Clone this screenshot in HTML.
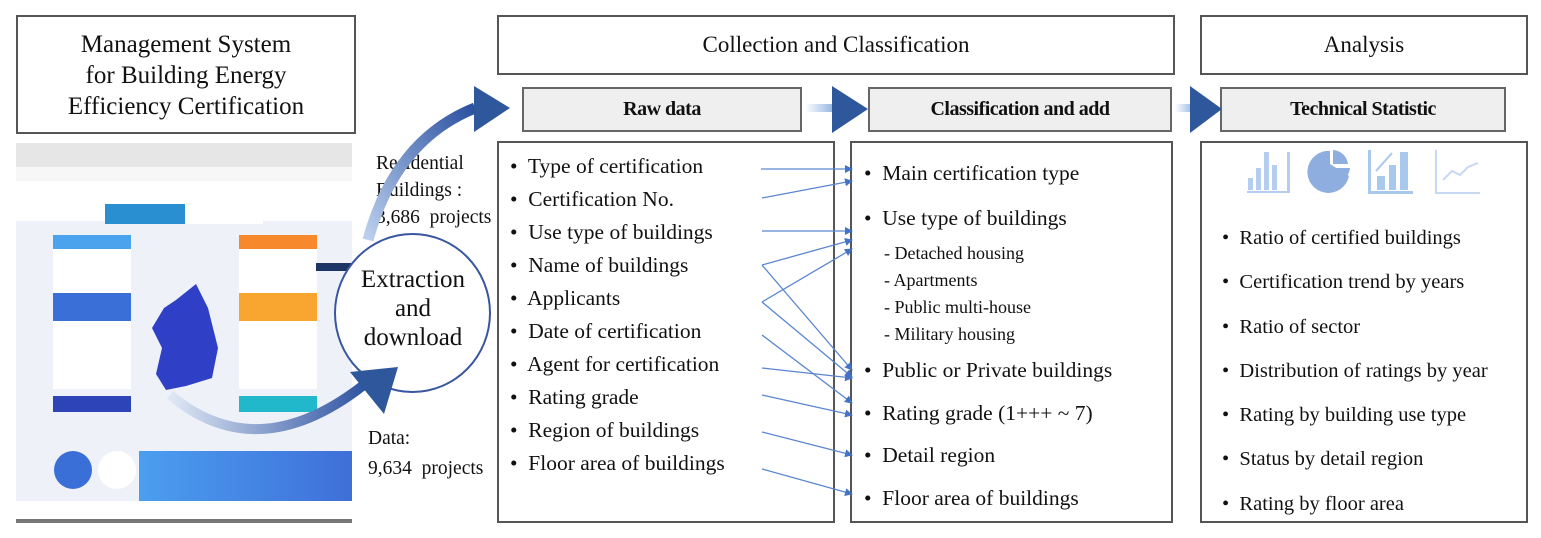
<!DOCTYPE html>
<html><head><meta charset="utf-8"><style>
body{margin:0;width:1541px;height:538px;background:#fff;position:relative;overflow:hidden;font-family:"Liberation Serif",serif;color:#111}
.b{position:absolute;box-sizing:border-box;border:2px solid #555;background:#fff}
.h{position:absolute;box-sizing:border-box;border:2px solid #666;background:#efefef;font-weight:bold;font-size:20px;display:flex;align-items:center;justify-content:center;letter-spacing:-0.5px}
.t{position:absolute;font-size:21.5px;white-space:nowrap}
.s{position:absolute;font-size:18px;white-space:nowrap}
.a{position:absolute}
</style></head><body>
<div class="b" style="left:16px;top:15px;width:340px;height:119px;text-align:center;font-size:25px;line-height:31px;padding-top:12px">Management System<br>for Building Energy<br>Efficiency Certification</div>
<div class="b" style="left:497px;top:15px;width:678px;height:60px;font-size:23px;text-align:center;line-height:56px">Collection and Classification</div>
<div class="b" style="left:1200px;top:15px;width:328px;height:60px;font-size:23px;text-align:center;line-height:56px">Analysis</div>
<div class="h" style="left:522px;top:87px;width:280px;height:45px">Raw data</div>
<div class="h" style="left:868px;top:87px;width:304px;height:45px">Classification and add</div>
<div class="h" style="left:1220px;top:87px;width:286px;height:45px">Technical Statistic</div>
<div class="b" style="left:497px;top:141px;width:338px;height:382px"></div>
<div class="b" style="left:850px;top:141px;width:323px;height:382px"></div>
<div class="b" style="left:1200px;top:141px;width:328px;height:382px"></div>

<!-- screenshot mock -->
<div class="a" style="left:16px;top:143px;width:336px;height:380px;background:#eef2f8">
 <div class="a" style="left:0;top:0;width:336px;height:24px;background:#e6e6e6"></div>
 <div class="a" style="left:0;top:24px;width:336px;height:14px;background:#f7f7f7"></div>
 <div class="a" style="left:0;top:38px;width:336px;height:40px;background:#fff"></div>
 <div class="a" style="left:89px;top:61px;width:80px;height:20px;background:#2a8fd0"></div>
 <div class="a" style="left:169px;top:61px;width:78px;height:20px;background:#fff"></div>
 <div class="a" style="left:37px;top:92px;width:78px;height:14px;background:#4aa3ec"></div>
 <div class="a" style="left:37px;top:106px;width:78px;height:50px;background:#fff"></div>
 <div class="a" style="left:37px;top:150px;width:78px;height:28px;background:#3a6fd8"></div>
 <div class="a" style="left:37px;top:178px;width:78px;height:68px;background:#fff"></div>
 <div class="a" style="left:37px;top:253px;width:78px;height:16px;background:#2c44b8"></div>
 <div class="a" style="left:223px;top:92px;width:78px;height:14px;background:#f7882c"></div>
 <div class="a" style="left:223px;top:106px;width:78px;height:50px;background:#fff"></div>
 <div class="a" style="left:223px;top:150px;width:78px;height:28px;background:#f9a630"></div>
 <div class="a" style="left:223px;top:178px;width:78px;height:68px;background:#fff"></div>
 <div class="a" style="left:223px;top:253px;width:78px;height:16px;background:#22b8cc"></div>
 <div class="a" style="left:300px;top:120px;width:36px;height:8px;background:#1d3466"></div>
 <svg class="a" style="left:130px;top:135px" width="90" height="120"><path d="M50 6 L62 30 L72 70 L66 100 L40 108 L20 112 L10 96 L16 70 L6 50 L18 30 L30 22Z" fill="#2f3fc6"/></svg>
 <div class="a" style="left:38px;top:308px;width:38px;height:38px;border-radius:50%;background:#3a6fd8"></div>
 <div class="a" style="left:82px;top:308px;width:38px;height:38px;border-radius:50%;background:#fff"></div>
 <div class="a" style="left:123px;top:308px;width:213px;height:50px;background:linear-gradient(90deg,#4b9ef0,#3f6fd8)"></div>
 <div class="a" style="left:0;top:358px;width:336px;height:18px;background:#fff"></div>
 <div class="a" style="left:0;top:376px;width:336px;height:4px;background:#777"></div>
</div>

<!-- circle -->
<div class="a" style="left:334px;top:233px;width:157px;height:160px;border-radius:50%;border:2px solid #3956a0;background:#fff;box-sizing:border-box"></div>
<div class="t" style="left:336px;top:265px;width:154px;text-align:center;font-size:25px;line-height:29px">Extraction<br>and<br>download</div>
<div class="s" style="left:376px;top:150px;line-height:27px;font-size:19.5px">Residential<br>Buildings :<br>3,686&nbsp; projects</div>
<div class="s" style="left:368px;top:424px;line-height:30px;font-size:19.5px">Data:<br>9,634&nbsp; projects</div>

<svg class="a" style="left:0;top:0" width="1541" height="538">
<defs>
<linearGradient id="g1" x1="0" y1="1" x2="1" y2="0"><stop offset="0" stop-color="#bcd0ee"/><stop offset="1" stop-color="#2a50a0"/></linearGradient>
<linearGradient id="g2" x1="0" y1="0" x2="1" y2="0"><stop offset="0" stop-color="#e0e8f5"/><stop offset="1" stop-color="#2a50a0"/></linearGradient>
<linearGradient id="g3" x1="0" y1="0" x2="1" y2="0"><stop offset="0" stop-color="#fff"/><stop offset="1" stop-color="#8fb0e0"/></linearGradient>
<marker id="m" markerWidth="8" markerHeight="8" refX="7" refY="4" orient="auto" markerUnits="userSpaceOnUse"><path d="M0,0 L8,4 L0,8Z" fill="#4472c4"/></marker>
</defs>
<path d="M368 240 Q395 140 475 108" stroke="url(#g1)" stroke-width="11" fill="none"/>
<path d="M474 86 L510 108 L474 132Z" fill="#2f579b"/>
<path d="M170 395 Q260 470 370 380" stroke="url(#g2)" stroke-width="10" fill="none"/>
<path d="M350 372 L398 367 L384 414Z" fill="#2f579b"/>
<rect x="805" y="104" width="30" height="8" fill="url(#g3)"/>
<path d="M832 86 L868 109 L832 133Z" fill="#2f579b"/>
<rect x="1175" y="104" width="20" height="8" fill="url(#g3)"/>
<path d="M1190 86 L1222 109 L1190 133Z" fill="#2f579b"/>
<g stroke="#5a86d0" stroke-width="1.3" marker-end="url(#m)">
<line x1="761" y1="169" x2="852" y2="169"/>
<line x1="762" y1="198" x2="852" y2="181"/>
<line x1="762" y1="231" x2="852" y2="231"/>
<line x1="762" y1="265" x2="852" y2="240"/>
<line x1="762" y1="265" x2="852" y2="370"/>
<line x1="762" y1="302" x2="852" y2="249"/>
<line x1="762" y1="302" x2="852" y2="377"/>
<line x1="762" y1="335" x2="852" y2="403"/>
<line x1="762" y1="368" x2="852" y2="378"/>
<line x1="762" y1="395" x2="852" y2="415"/>
<line x1="762" y1="432" x2="852" y2="455"/>
<line x1="762" y1="469" x2="852" y2="494"/>
</g>
<!-- icons -->
<g fill="#b5cdef"><rect x="1248" y="178" width="5" height="12"/><rect x="1256" y="168" width="5" height="22"/><rect x="1264" y="152" width="5" height="38"/><rect x="1272" y="165" width="5" height="25"/><rect x="1287" y="152" width="3" height="41"/><rect x="1247" y="191" width="43" height="2"/></g>
<path d="M1330 164 L1330 151 A21 21 0 1 0 1349 176Z" fill="#8eaee0"/><path d="M1333 150 L1333 164 L1348 164 A16 16 0 0 0 1333 150Z" fill="#8eaee0"/><path d="M1334 168 L1350 168 A16 16 0 0 1 1347 176Z" fill="#8eaee0"/>
<g fill="#a8c8ec"><rect x="1368" y="150" width="3" height="44"/><rect x="1368" y="191" width="45" height="3"/><rect x="1377" y="176" width="8" height="14"/><rect x="1389" y="165" width="7" height="25"/><rect x="1400" y="152" width="8" height="38"/></g>
<path d="M1376 171 L1392 153" stroke="#a8c8ec" stroke-width="2"/>
<g fill="none" stroke="#c6d8f2" stroke-width="2"><path d="M1436 150 L1436 193 L1480 193"/><path d="M1443 180 L1452 171 L1460 175 L1468 167 L1478 163"/></g>
</svg>

<div class="t" style="left:510px;top:150px;line-height:33px">•&nbsp; Type of certification<br>•&nbsp; Certification No.<br>•&nbsp; Use type of buildings<br>•&nbsp; Name of buildings<br>•&nbsp; Applicants<br>•&nbsp; Date of certification<br>•&nbsp; Agent for certification<br>•&nbsp; Rating grade<br>•&nbsp; Region of buildings<br>•&nbsp; Floor area of buildings</div>
<div class="t" style="left:864px;top:161px">•&nbsp; Main certification type</div>
<div class="t" style="left:864px;top:206px">•&nbsp; Use type of buildings</div>
<div class="s" style="left:884px;top:240px;line-height:27px">- Detached housing<br>- Apartments<br>- Public multi-house<br>- Military housing</div>
<div class="t" style="left:864px;top:358px">•&nbsp; Public or Private buildings</div>
<div class="t" style="left:864px;top:401px">•&nbsp; Rating grade (1+++ ~ 7)</div>
<div class="t" style="left:864px;top:443px">•&nbsp; Detail region</div>
<div class="t" style="left:864px;top:486px">•&nbsp; Floor area of buildings</div>
<div class="t" style="left:1222px;top:216px;line-height:44.3px;font-size:20.5px">•&nbsp; Ratio of certified buildings<br>•&nbsp; Certification trend by years<br>•&nbsp; Ratio of sector<br>•&nbsp; Distribution of ratings by year<br>•&nbsp; Rating by building use type<br>•&nbsp; Status by detail region<br>•&nbsp; Rating by floor area</div>
</body></html>
